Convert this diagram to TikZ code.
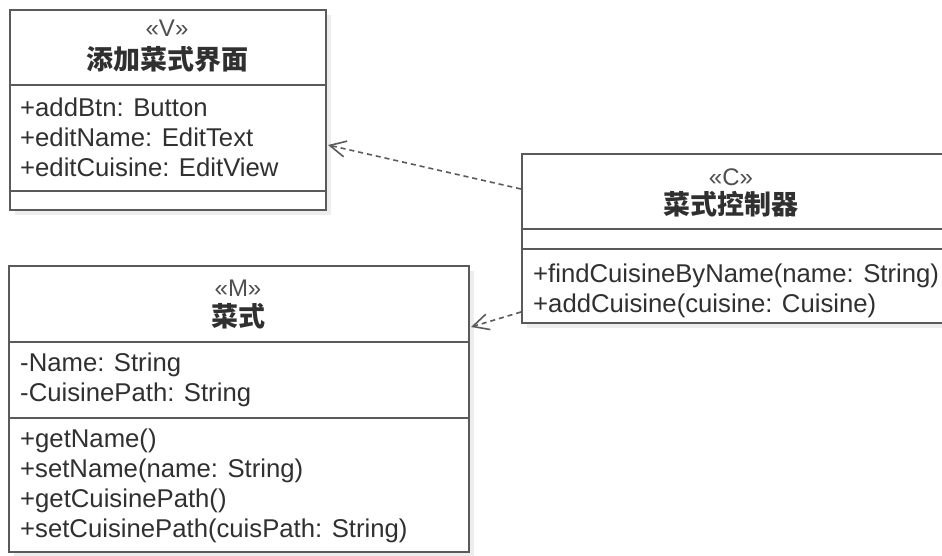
\documentclass[tikz,border=0pt]{standalone}
\usepackage{fontspec}
\setmainfont{Liberation Sans}
\newfontfamily\cjk{Noto Sans CJK SC}
\usetikzlibrary{arrows.meta,calc}
\definecolor{linec}{HTML}{5A5A5A}
\definecolor{textc}{HTML}{303030}
\definecolor{shadowc}{HTML}{EDEDED}
\tikzset{
  umlbox/.style={draw=linec, line width=2pt, fill=white, anchor=north west, inner sep=0pt},
  shadowbox/.style={fill=shadowc, draw=none, anchor=north west, inner sep=0pt},
  divider/.style={draw=linec, line width=2pt},
  member/.style={anchor=base west, inner sep=0pt, text=textc, font=\fontsize{25.7}{30}\selectfont},
  stereo/.style={anchor=base, inner sep=0pt, text=textc!85, font=\fontsize{24}{28}\selectfont},
  title/.style={anchor=base, inner sep=0pt, text=textc, font=\cjk\bfseries\fontsize{27}{30}\selectfont},
  dep/.style={draw=linec, line width=1.6pt, dash pattern=on 5pt off 4pt, -{Straight Barb[length=16pt,width=16pt,line width=1.6pt]}}
}
\begin{document}
\begin{tikzpicture}[x=1pt,y=-1pt]
\useasboundingbox (0,0) rectangle (942,555);
\fill[white] (0,0) rectangle (942,555);
% shadows
\node[shadowbox, minimum width=316pt, minimum height=200pt] (vsh) at (15,15) {};
\node[shadowbox, minimum width=460pt, minimum height=286pt] (msh) at (14,271) {};
\node[shadowbox, minimum width=430pt, minimum height=169pt] (csh) at (527,159) {};
% View box
\node[umlbox, minimum width=316pt, minimum height=200pt] (vbox) at (9,9) {};
\draw[divider] (9,85) -- (325,85);
\draw[divider] (9,191) -- (325,191);
\node[stereo] (vst) at (167,36) {«V»};
\node[title] (vti) at (167,69) {添加菜式界面};
\node[member] (va1) at (20,116) {+addBtn: Button};
\node[member] (va2) at (20,146) {+editName: EditText};
\node[member] (va3) at (20,176) {+editCuisine: EditView};
% Controller box
\node[umlbox, minimum width=430pt, minimum height=169pt] (cbox) at (521,153) {};
\draw[divider] (521,229) -- (951,229);
\draw[divider] (521,249) -- (951,249);
\node[stereo] (cst) at (731,185) {«C»};
\node[title] (cti) at (731,214) {菜式控制器};
\node[member] (cm1) at (533,282) {+findCuisineByName(name: String)};
\node[member] (cm2) at (533,312) {+addCuisine(cuisine: Cuisine)};
% Model box
\node[umlbox, minimum width=460pt, minimum height=286pt] (mbox) at (8,265) {};
\draw[divider] (8,342) -- (468,342);
\draw[divider] (8,418) -- (468,418);
\node[stereo] (mst) at (238,296) {«M»};
\node[title] (mti) at (238,326) {菜式};
\node[member] (ma1) at (20,371) {-Name: String};
\node[member] (ma2) at (20,401) {-CuisinePath: String};
\node[member] (mm1) at (20,447) {+getName()};
\node[member] (mm2) at (20,477) {+setName(name: String)};
\node[member] (mm3) at (20,507) {+getCuisinePath()};
\node[member] (mm4) at (20,537) {+setCuisinePath(cuisPath: String)};
% connectors
\coordinate (c1) at ($(cbox.north west)+(0,36)$);
\coordinate (v1) at ($(vbox.north east)+(1,136)$);
\coordinate (c2) at ($(cbox.north west)+(0,159)$);
\coordinate (m1) at ($(mbox.north east)+(1,62)$);
\draw[dep] (c1) -- (v1);
\draw[dep] (c2) -- (m1);
\end{tikzpicture}
\end{document}
